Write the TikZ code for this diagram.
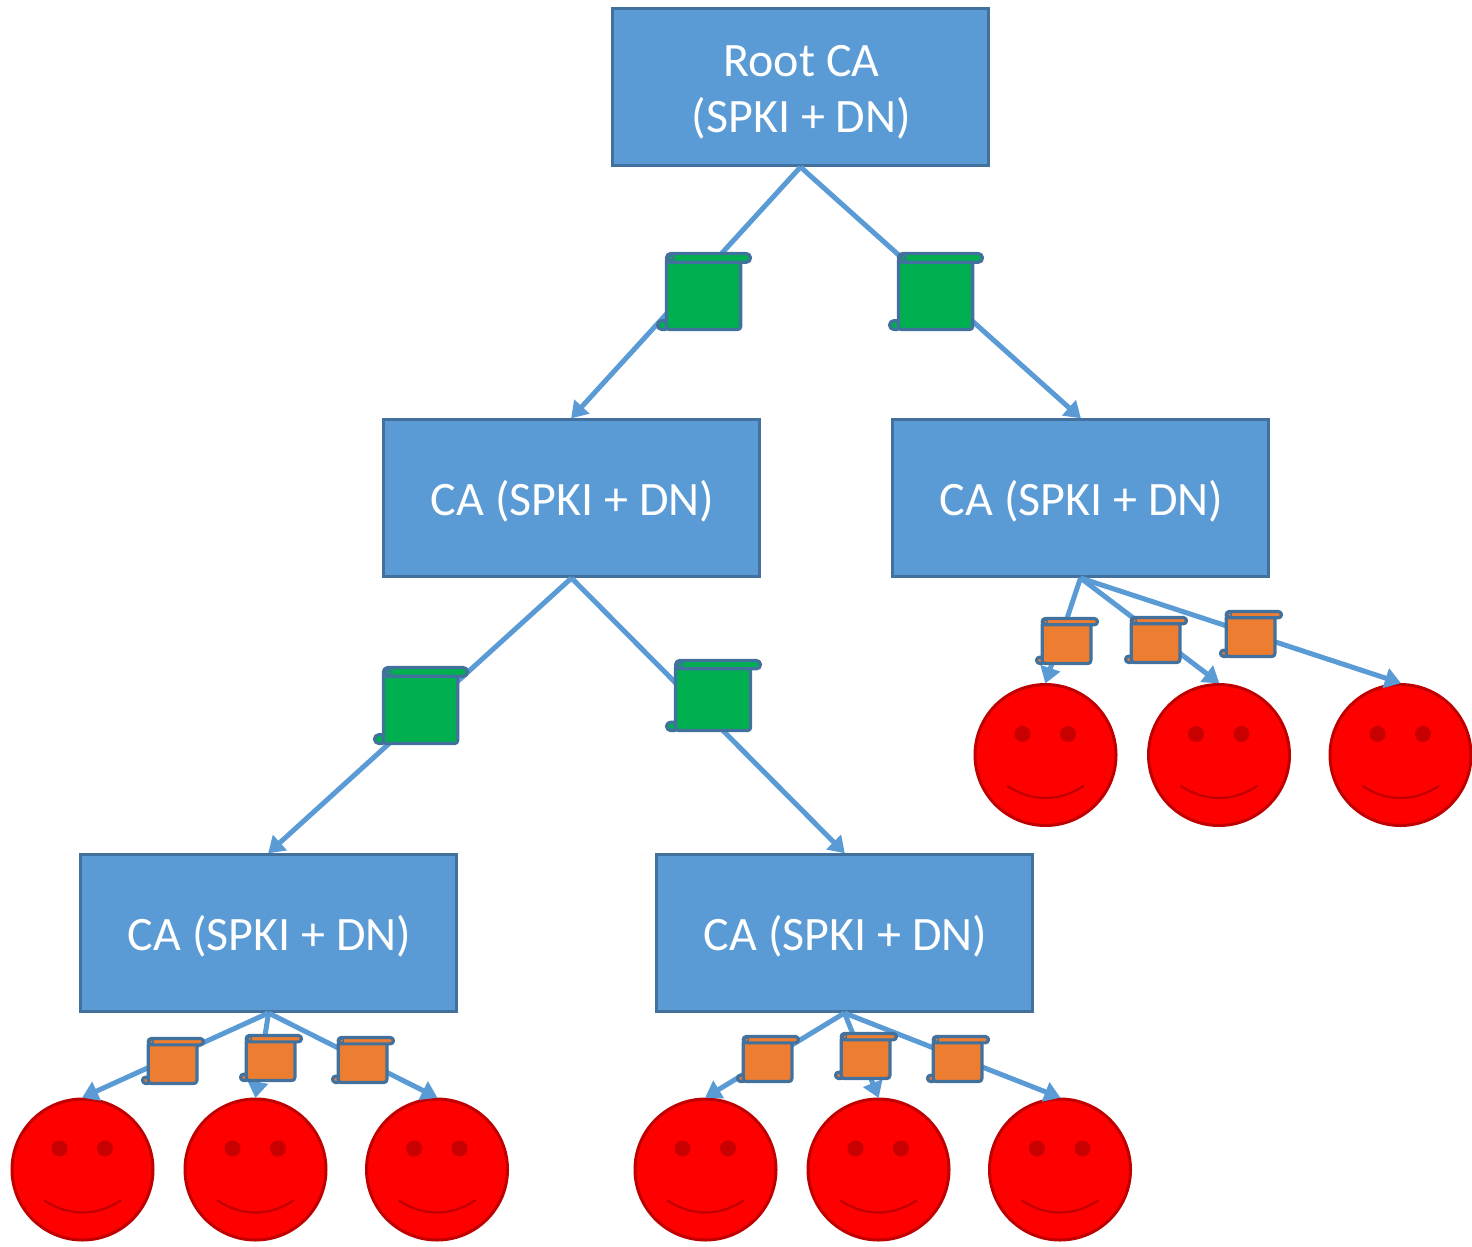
\documentclass[tikz,border=0pt]{standalone}
\usepackage{fontspec}
\setmainfont{Carlito}
\usetikzlibrary{arrows.meta,calc}
\definecolor{cablue}{HTML}{5B9BD5}
\definecolor{caedge}{HTML}{41719C}
\definecolor{scgreen}{HTML}{00B050}
\definecolor{scorange}{HTML}{ED7D31}
\definecolor{facered}{HTML}{FF0000}
\definecolor{facedark}{HTML}{C00000}
\newcommand\boxtext[2]{\hspace*{2pt}\raisebox{#1}[0pt][0pt]{#2}}
\tikzset{
  cabox/.style={rectangle,draw=caedge,fill=cablue,line width=3pt,minimum width=376pt,minimum height=157pt,
    text=white,align=center,inner sep=0pt,font=\fontsize{48}{56}\selectfont},
  conn/.style={draw=cablue,line width=5pt,-{Triangle[length=16pt,width=20pt]},shorten >=-0.5pt},
  facecirc/.style={circle,draw=facedark,fill=facered,line width=3pt,minimum size=141pt,inner sep=0pt},
  scrolledge/.style={draw=caedge,line width=3.2pt,line join=round}
}
% scroll: name, x0, y0, x1, y1, fill
\newcommand\scrollshape[6]{%
  \pgfmathsetmacro\sw{#4-#2}\pgfmathsetmacro\sh{#5-#3}%
  \pgfmathsetmacro\sd{0.10*\sw}\pgfmathsetmacro\sb{4+0.08*\sh}%
  \pgfmathsetmacro\xa{#2+1.5}\pgfmathsetmacro\xb{#2+\sd+0.8}\pgfmathsetmacro\xc{#4-\sd-1.7}\pgfmathsetmacro\xd{#4-1.5}%
  \pgfmathsetmacro\ya{#3+1.5}\pgfmathsetmacro\yb{#3+\sb}\pgfmathsetmacro\yc{#5-\sb}\pgfmathsetmacro\yd{#5-1.5}%
  \pgfmathsetmacro\rr{(\sb-1.5)/2}%
  \coordinate (#1) at ({(#2+#4)/2},{(#3+#5)/2});
  \path[scrolledge,fill=#6,rounded corners=\rr pt] (\xa,\yc) rectangle (\xb+3,\yd);
  \path[scrolledge,fill=#6,rounded corners=3pt] (\xb,\ya+\rr) -- (\xb,\yd) -- (\xc,\yd) -- (\xc,\ya+\rr) -- cycle;
  \path[scrolledge,fill=#6,rounded corners=\rr pt] (\xb,\ya) rectangle (\xd,\yb);
  \path[fill=caedge] (\xb+\rr,\ya+\rr) circle ({\rr*0.9});
  \path[fill=#6] (\xb+\rr*1.1,\ya+\rr) circle ({\rr*0.35});
}
\newcommand\smiley[3]{%
  \node[facecirc] (#1) at (#2,#3) {};
  \fill[facedark!85!facered] ($(#1)+(-23,-21)$) circle (8);
  \fill[facedark!85!facered] ($(#1)+(22.5,-21)$) circle (8);
  \draw[facedark,line width=2.2pt,line cap=round] ($(#1)+(-38,31)$) .. controls ($(#1)+(-14,47)$) and ($(#1)+(14,47)$) .. ($(#1)+(38,31)$);
}
\begin{document}
\begin{tikzpicture}[x=1pt,y=-1pt]
\useasboundingbox (0,0) rectangle (1472,1247);
% boxes
\node[cabox] (root) at (800.5,87) {\boxtext{-12.5pt}{\begin{tabular}{@{}c@{}}Root CA\\[0pt](SPKI + DN)\end{tabular}}};
\node[cabox] (ca1) at (571.5,498) {\boxtext{-17pt}{CA (SPKI + DN)}};
\node[cabox] (ca2) at (1080.5,498) {\boxtext{-17pt}{CA (SPKI + DN)}};
\node[cabox] (ca3) at (268.5,933) {\boxtext{-17pt}{CA (SPKI + DN)}};
\node[cabox] (ca4) at (844.5,933) {\boxtext{-17pt}{CA (SPKI + DN)}};
% faces
\smiley{f1}{1045.5}{755}
\smiley{f2}{1219}{755}
\smiley{f3}{1400.5}{755}
\smiley{f4}{82.5}{1169.5}
\smiley{f5}{255.5}{1169.5}
\smiley{f6}{437}{1169.5}
\smiley{f7}{705.5}{1169.5}
\smiley{f8}{878.5}{1169.5}
\smiley{f9}{1060}{1169.5}
% connectors
\draw[conn] (root.south) -- (ca1.north);
\draw[conn] (root.south) -- (ca2.north);
\draw[conn] (ca1.south) -- (ca3.north);
\draw[conn] (ca1.south) -- (ca4.north);
\draw[conn] (ca2.south) -- (f1.north);
\draw[conn] (ca2.south) -- (f2.north);
\draw[conn] (ca2.south) -- (f3.north);
\draw[conn] (ca3.south) -- (f4.north);
\draw[conn] (ca3.south) -- (f5.north);
\draw[conn] (ca3.south) -- (f6.north);
\draw[conn] (ca4.south) -- (f7.north);
\draw[conn] (ca4.south) -- (f8.north);
\draw[conn] (ca4.south) -- (f9.north);
% scrolls
\scrollshape{g1}{656}{252}{752}{331}{scgreen}
\scrollshape{g2}{888}{252}{984}{331}{scgreen}
\scrollshape{g3}{373}{666}{469}{745}{scgreen}
\scrollshape{g4}{665}{659}{762}{732}{scgreen}
\scrollshape{o1}{1035}{617}{1099}{665}{scorange}
\scrollshape{o2}{1124}{616}{1188}{664}{scorange}
\scrollshape{o3}{1219}{610}{1283}{658}{scorange}
\scrollshape{o4}{141}{1037}{205}{1085}{scorange}
\scrollshape{o5}{239}{1034}{303}{1082}{scorange}
\scrollshape{o6}{331}{1036}{395}{1084}{scorange}
\scrollshape{o7}{736}{1035}{800}{1083}{scorange}
\scrollshape{o8}{834}{1032}{898}{1080}{scorange}
\scrollshape{o9}{926}{1035}{990}{1083}{scorange}
\end{tikzpicture}
\end{document}
